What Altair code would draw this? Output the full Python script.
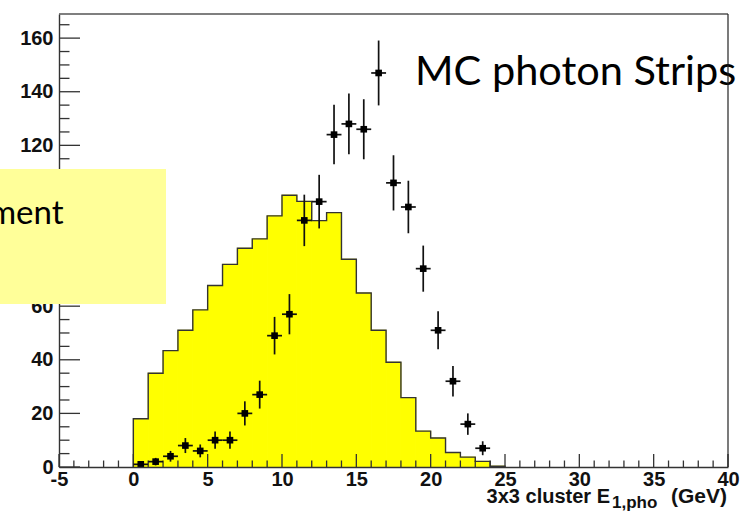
import altair as alt
import pandas as pd

# Histogram (filled, 1 GeV bins from 0 to 25)
hist_lo = list(range(0, 25))
hist_val = [18, 35, 43.4, 51, 58.6, 67.7, 75.6, 81.6, 85.1, 93.7, 101.4, 99.1,
            91.9, 94.9, 77.5, 64.9, 51, 39.1, 25.9, 13.4, 10.8, 5.4, 3.7, 2.1, 0.3]

# MC points with error bars, at bin centres
pt_x = [i + 0.5 for i in range(24)]
pt_y = [1, 2, 4, 8, 6, 10, 10, 20, 27, 49, 57, 92, 99, 124, 128, 126, 147,
        106, 97, 74, 51, 32, 16, 7]
pt_err = [1.0, 1.4, 2.0, 2.8, 2.4, 3.2, 3.2, 4.5, 5.2, 7.0, 7.5, 9.6, 10.0,
          11.1, 11.3, 11.2, 12.1, 10.3, 9.8, 8.6, 7.1, 5.7, 4.0, 2.6]

# Axis tick positions
x_major = list(range(-5, 41, 5))
x_minor = [v for v in range(-5, 41) if v % 5 != 0]
y_major = list(range(0, 161, 20))
y_minor = [v for v in range(5, 170, 5) if v % 20 != 0]

W, H = 669, 453
XDOM, YDOM = [-5, 40], [0, 169]
LABEL_FONT = "Liberation Sans"
TEXT_FONT = "Lato"

xs = alt.Scale(domain=XDOM, nice=False, zero=False)
ys = alt.Scale(domain=YDOM, nice=False, zero=False)

hist = pd.DataFrame({"lo": hist_lo, "hi": [v + 1 for v in hist_lo], "val": hist_val})

# step outline of the histogram
ox = [0] + hist_lo + [25, 25]
oy = [0] + hist_val + [hist_val[-1], 0]
outline = pd.DataFrame({"x": ox, "y": oy, "o": list(range(len(ox)))})

pts = pd.DataFrame({"x": pt_x, "y": pt_y, "err": pt_err})
pts["ylo"] = pts["y"] - pts["err"]
pts["yhi"] = pts["y"] + pts["err"]
pts["xlo"] = pts["x"] - 0.5
pts["xhi"] = pts["x"] + 0.5

one = pd.DataFrame({"a": [0]})

axis_common = dict(ticks=False, tickSize=0, grid=False, domainColor="#333",
                   domainWidth=1.4, labelFont=LABEL_FONT, labelFontSize=20,
                   labelFontWeight="bold", labelColor="#111", labelFlush=False,
                   labelOverlap=False, title=None, labelExpr="'' + datum.value")
x_axis = alt.Axis(values=x_major, labelPadding=2, zindex=1, **axis_common)
y_axis = alt.Axis(values=y_major, labelPadding=6, zindex=0, **axis_common)

# yellow bins; a thin stroke of the same colour closes the seams between them
bars = alt.Chart(hist).mark_rect(fill="#ffff00", stroke="#ffff00",
                                 strokeWidth=1).encode(
    x=alt.X("lo:Q", scale=xs, axis=x_axis),
    x2="hi:Q",
    y=alt.Y("val:Q", scale=ys, axis=y_axis),
    y2=alt.datum(0),
)

step = alt.Chart(outline).mark_line(interpolate="step-after", color="#333",
                                    strokeWidth=1.4).encode(
    x="x:Q", y="y:Q", order="o:Q")

tick_major_x = alt.Chart(pd.DataFrame({"v": x_major})).mark_rule(
    color="#333", strokeWidth=1.3).encode(
    x="v:Q", y=alt.value(H), y2=alt.value(H - 13))
tick_minor_x = alt.Chart(pd.DataFrame({"v": x_minor})).mark_rule(
    color="#333", strokeWidth=1.3).encode(
    x="v:Q", y=alt.value(H), y2=alt.value(H - 6.5))
tick_major_y = alt.Chart(pd.DataFrame({"v": y_major})).mark_rule(
    color="#333", strokeWidth=1.3).encode(
    y="v:Q", x=alt.value(0), x2=alt.value(21))
tick_minor_y = alt.Chart(pd.DataFrame({"v": y_minor})).mark_rule(
    color="#333", strokeWidth=1.3).encode(
    y="v:Q", x=alt.value(0), x2=alt.value(10.5))

vbar = alt.Chart(pts).mark_rule(color="#111", strokeWidth=1.7).encode(
    x="x:Q", y="ylo:Q", y2="yhi:Q")
hbar = alt.Chart(pts).mark_rule(color="#111", strokeWidth=1.7).encode(
    x="xlo:Q", x2="xhi:Q", y="y:Q")
sq = alt.Chart(pts).mark_square(color="#000", size=44, opacity=1).encode(
    x="x:Q", y="y:Q")

# pale yellow note box on the left
box = alt.Chart(one).mark_rect(color="#ffff99").encode(
    x=alt.value(-59), x2=alt.value(107), y=alt.value(155), y2=alt.value(290))
box_text = alt.Chart(one).mark_text(
    text="ment", font=TEXT_FONT, fontSize=33, align="right", baseline="alphabetic",
    color="#000").encode(x=alt.value(4.5), y=alt.value(209.5))

mc_text = alt.Chart(one).mark_text(
    text="MC photon Strips", font=TEXT_FONT, fontSize=41.5, align="left",
    baseline="alphabetic", color="#000").encode(x=alt.value(356), y=alt.value(71))

# x-axis title with subscript
t_main = alt.Chart(one).mark_text(
    text="3x3 cluster E", font=LABEL_FONT, fontSize=20, fontWeight="bold",
    align="right", baseline="alphabetic", color="#111").encode(
    x=alt.value(551), y=alt.value(488.5))
t_sub = alt.Chart(one).mark_text(
    text="1,pho", font=LABEL_FONT, fontSize=17, fontWeight="bold",
    align="left", baseline="alphabetic", color="#111").encode(
    x=alt.value(553), y=alt.value(493.5))
t_unit = alt.Chart(one).mark_text(
    text="(GeV)", font=LABEL_FONT, fontSize=21, fontWeight="bold",
    align="right", baseline="alphabetic", color="#111").encode(
    x=alt.value(668), y=alt.value(488.5))

# top and right frame lines
frame_top = alt.Chart(one).mark_rule(color="#555", strokeWidth=1.5).encode(
    x=alt.value(0), x2=alt.value(W), y=alt.value(0))
frame_right = alt.Chart(one).mark_rule(color="#222", strokeWidth=1.2).encode(
    x=alt.value(W), y=alt.value(0), y2=alt.value(H))

chart = alt.layer(
    bars, step, tick_major_x, tick_minor_x, tick_major_y, tick_minor_y,
    vbar, hbar, sq, box, box_text, mc_text, t_main, t_sub, t_unit,
    frame_top, frame_right,
).properties(
    width=W, height=H,
    autosize=alt.AutoSizeParams(type="none"),
    padding={"left": 59, "top": 14, "right": 14, "bottom": 49},
    background="white",
).configure_view(stroke=None)

chart.save("out.html", embed_options={"renderer": "svg", "actions": False})
